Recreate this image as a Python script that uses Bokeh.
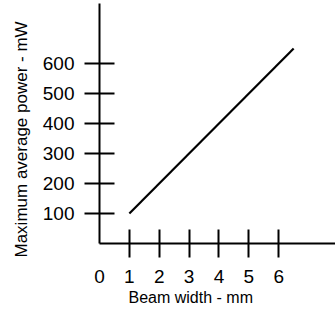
from bokeh.plotting import figure
from bokeh.models import FixedTicker, Range1d, Title
from bokeh.embed import file_html
from bokeh.resources import INLINE

# Data
beam_width = [1.0, 6.5]          # mm
max_power = [100, 650]           # mW
x_label_ticks = [0, 1, 2, 3, 4, 5, 6]
x_mark_ticks = [1, 2, 3, 4, 5, 6]
y_ticks = [100, 200, 300, 400, 500, 600]
x_title = "Beam width - mm"
y_title = "Maximum average power - mW"

FONT = "Liberation Sans"

p = figure(width=335, height=310, output_backend="svg", toolbar_location=None,
           x_range=Range1d(0, 7.9), y_range=Range1d(0, 800),
           min_border_left=98, min_border_bottom=67, min_border_top=3, min_border_right=0)
p.grid.visible = False
p.outline_line_color = None
p.background_fill_color = "white"
p.border_fill_color = "white"

p.line(beam_width, max_power, line_color="black", line_width=2.2)

# x axis: labels at 0..6, crossing tick marks at 1..6 (drawn as minor ticks)
xa = p.xaxis[0]
xa.ticker = FixedTicker(ticks=x_label_ticks, minor_ticks=x_mark_ticks)
xa.major_tick_line_color = None
xa.major_tick_in = 0
xa.major_tick_out = 0
xa.minor_tick_line_color = "black"
xa.minor_tick_line_width = 2
xa.minor_tick_in = 14
xa.minor_tick_out = 14
xa.major_label_standoff = 12

ya = p.yaxis[0]
ya.ticker = FixedTicker(ticks=y_ticks)
ya.major_tick_line_color = "black"
ya.major_tick_line_width = 2
ya.major_tick_in = 15
ya.major_tick_out = 15
ya.minor_tick_line_color = None
ya.major_label_standoff = 10

for ax in (xa, ya):
    ax.axis_line_color = "black"
    ax.axis_line_width = 2
    ax.major_label_text_font = FONT
    ax.major_label_text_font_size = "19px"
    ax.major_label_text_color = "black"

p.add_layout(Title(text=x_title, align="left", offset=29, standoff=2,
                   text_font=FONT, text_font_size="16px", text_font_style="normal",
                   text_color="black"), "below")
p.add_layout(Title(text=y_title, align="left", offset=-14, standoff=18,
                   text_font=FONT, text_font_size="17px", text_font_style="normal",
                   text_color="black"), "left")

open("out.html", "w").write(file_html(p, INLINE))
